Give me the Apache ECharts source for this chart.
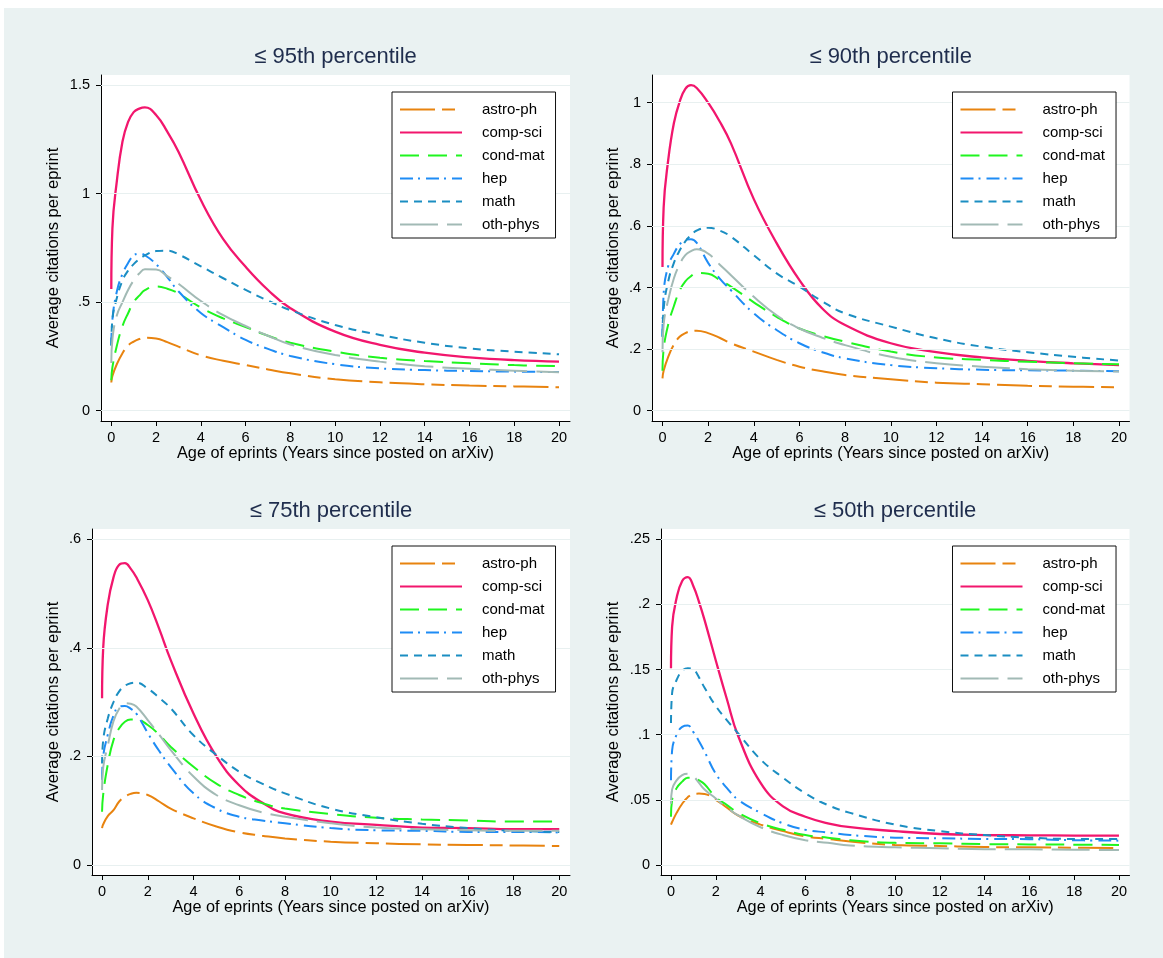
<!DOCTYPE html>
<html>
<head>
<meta charset="utf-8">
<script src="https://cdn.jsdelivr.net/npm/echarts@6/dist/echarts.min.js"></script>
<style>
html,body{margin:0;padding:0;background:#fff;}
#chart{width:1163px;height:958px;}
</style>
</head>
<body>
<div id="chart"></div>
<script>
// ---------------- DATA ----------------
const fields = ['astro-ph', 'comp-sci', 'cond-mat', 'hep', 'math', 'oth-phys'];
const years = [0, 0.05, 0.25, 0.5, 0.75, 1, 1.25, 1.5, 2, 2.5, 3, 4, 5, 6, 7, 8, 10, 12, 14, 16, 18, 20];
const xTicks = [0, 2, 4, 6, 8, 10, 12, 14, 16, 18, 20];

const panelTitles = ['≤ 95th percentile', '≤ 90th percentile', '≤ 75th percentile', '≤ 50th percentile'];
const yTicks95 = [0, 0.5, 1, 1.5];
const yTicks90 = [0, 0.2, 0.4, 0.6, 0.8, 1];
const yTicks75 = [0, 0.2, 0.4, 0.6];
const yTicks50 = [0, 0.05, 0.1, 0.15, 0.2, 0.25];

// <= 95th percentile
const p95_astro = [0.13, 0.16, 0.215, 0.265, 0.3, 0.318, 0.33, 0.336, 0.333, 0.316, 0.295, 0.255, 0.23, 0.21, 0.19, 0.172, 0.145, 0.131, 0.122, 0.116, 0.112, 0.108];
const p95_comp  = [0.56, 0.84, 1.06, 1.24, 1.33, 1.375, 1.391, 1.397, 1.362, 1.285, 1.193, 0.97, 0.79, 0.663, 0.556, 0.472, 0.364, 0.303, 0.267, 0.246, 0.233, 0.226];
const p95_cond  = [0.14, 0.2, 0.3, 0.39, 0.449, 0.5, 0.53, 0.555, 0.572, 0.562, 0.54, 0.475, 0.425, 0.385, 0.345, 0.313, 0.272, 0.244, 0.229, 0.218, 0.21, 0.205];
const p95_hep   = [0.3, 0.42, 0.55, 0.63, 0.68, 0.715, 0.723, 0.716, 0.675, 0.615, 0.55, 0.45, 0.385, 0.326, 0.285, 0.252, 0.214, 0.195, 0.187, 0.183, 0.18, 0.178];
const p95_math  = [0.3, 0.42, 0.52, 0.6, 0.645, 0.675, 0.698, 0.715, 0.735, 0.737, 0.72, 0.665, 0.61, 0.556, 0.507, 0.463, 0.395, 0.349, 0.313, 0.287, 0.272, 0.26];
const p95_oth   = [0.22, 0.33, 0.44, 0.5, 0.556, 0.6, 0.632, 0.651, 0.65, 0.62, 0.585, 0.505, 0.44, 0.39, 0.345, 0.305, 0.257, 0.226, 0.205, 0.193, 0.184, 0.177];

// <= 90th percentile
const p90_astro = [0.105, 0.13, 0.175, 0.215, 0.24, 0.252, 0.258, 0.26, 0.252, 0.237, 0.219, 0.192, 0.165, 0.143, 0.128, 0.116, 0.102, 0.091, 0.086, 0.081, 0.078, 0.076];
const p90_comp  = [0.467, 0.66, 0.814, 0.934, 1.003, 1.045, 1.057, 1.048, 1.0, 0.94, 0.868, 0.687, 0.544, 0.424, 0.332, 0.278, 0.219, 0.19, 0.173, 0.162, 0.154, 0.148];
const p90_cond  = [0.13, 0.2, 0.28, 0.34, 0.39, 0.42, 0.437, 0.447, 0.445, 0.425, 0.403, 0.352, 0.305, 0.267, 0.243, 0.224, 0.192, 0.173, 0.165, 0.159, 0.154, 0.151];
const p90_hep   = [0.24, 0.38, 0.47, 0.51, 0.54, 0.555, 0.557, 0.545, 0.48, 0.43, 0.391, 0.316, 0.262, 0.219, 0.19, 0.17, 0.148, 0.138, 0.133, 0.131, 0.13, 0.128];
const p90_math  = [0.24, 0.33, 0.42, 0.48, 0.52, 0.55, 0.57, 0.585, 0.594, 0.585, 0.565, 0.505, 0.446, 0.403, 0.355, 0.316, 0.273, 0.235, 0.208, 0.19, 0.175, 0.163];
const p90_oth   = [0.19, 0.28, 0.36, 0.43, 0.475, 0.505, 0.518, 0.524, 0.51, 0.475, 0.44, 0.37, 0.31, 0.267, 0.237, 0.213, 0.175, 0.154, 0.143, 0.135, 0.13, 0.127];

// <= 75th percentile
const p75_astro = [0.068, 0.075, 0.09, 0.101, 0.117, 0.126, 0.131, 0.133, 0.129, 0.117, 0.104, 0.086, 0.071, 0.06, 0.054, 0.049, 0.043, 0.04, 0.038, 0.037, 0.036, 0.035];
const p75_comp  = [0.307, 0.4, 0.48, 0.53, 0.553, 0.556, 0.546, 0.53, 0.488, 0.435, 0.378, 0.279, 0.2, 0.147, 0.115, 0.095, 0.08, 0.074, 0.069, 0.068, 0.066, 0.066];
const p75_cond  = [0.098, 0.13, 0.185, 0.23, 0.252, 0.264, 0.268, 0.268, 0.258, 0.24, 0.218, 0.181, 0.15, 0.129, 0.114, 0.104, 0.094, 0.087, 0.084, 0.082, 0.08, 0.08];
const p75_hep   = [0.157, 0.2, 0.24, 0.275, 0.292, 0.293, 0.288, 0.279, 0.243, 0.21, 0.181, 0.132, 0.104, 0.089, 0.082, 0.077, 0.068, 0.064, 0.063, 0.061, 0.061, 0.06];
const p75_math  = [0.187, 0.23, 0.27, 0.3, 0.32, 0.33, 0.335, 0.336, 0.325, 0.308, 0.289, 0.239, 0.203, 0.172, 0.15, 0.132, 0.104, 0.088, 0.076, 0.068, 0.063, 0.061];
const p75_oth   = [0.138, 0.18, 0.22, 0.265, 0.288, 0.298, 0.297, 0.292, 0.267, 0.24, 0.212, 0.163, 0.129, 0.11, 0.097, 0.089, 0.077, 0.069, 0.066, 0.064, 0.063, 0.063];

// <= 50th percentile
const p50_astro = [0.031, 0.033, 0.04, 0.047, 0.052, 0.0545, 0.0548, 0.0545, 0.05, 0.044, 0.038, 0.031, 0.026, 0.022, 0.02, 0.018, 0.0154, 0.0146, 0.0138, 0.0136, 0.0133, 0.013];
const p50_comp  = [0.151, 0.183, 0.205, 0.218, 0.221, 0.214, 0.202, 0.188, 0.157, 0.127, 0.099, 0.063, 0.045, 0.037, 0.032, 0.029, 0.026, 0.0238, 0.023, 0.0228, 0.0226, 0.0225];
const p50_cond  = [0.037, 0.05, 0.059, 0.064, 0.067, 0.067, 0.065, 0.062, 0.052, 0.046, 0.04, 0.032, 0.027, 0.023, 0.021, 0.019, 0.017, 0.0166, 0.016, 0.0158, 0.0156, 0.0154];
const p50_hep   = [0.065, 0.088, 0.1, 0.106, 0.107, 0.102, 0.095, 0.087, 0.07, 0.059, 0.05, 0.04, 0.032, 0.027, 0.025, 0.023, 0.021, 0.0205, 0.02, 0.0198, 0.019, 0.0187];
const p50_math  = [0.109, 0.132, 0.142, 0.149, 0.151, 0.15, 0.144, 0.136, 0.122, 0.111, 0.101, 0.081, 0.067, 0.055, 0.046, 0.04, 0.031, 0.026, 0.023, 0.021, 0.02, 0.02];
const p50_oth   = [0.047, 0.058, 0.065, 0.069, 0.07, 0.068, 0.063, 0.058, 0.051, 0.044, 0.038, 0.029, 0.023, 0.019, 0.017, 0.015, 0.0136, 0.0128, 0.012, 0.012, 0.0117, 0.0115];

// ---------------- LAYOUT / STYLE ----------------
const panelValues = [
  [p95_astro, p95_comp, p95_cond, p95_hep, p95_math, p95_oth],
  [p90_astro, p90_comp, p90_cond, p90_hep, p90_math, p90_oth],
  [p75_astro, p75_comp, p75_cond, p75_hep, p75_math, p75_oth],
  [p50_astro, p50_comp, p50_cond, p50_hep, p50_math, p50_oth]
];
const panelYTicks = [yTicks95, yTicks90, yTicks75, yTicks50];

const panels = [
  { grid: {left: 101, top: 75, width: 469, height: 346}, xr: [-0.46, 20.49], yr: [-0.0474, 1.546], nameGap: 39, legend: {left: 392, top: 92}, title: {cx: 335.5, top: 46} },
  { grid: {left: 652, top: 75, width: 477.5, height: 346}, xr: [-0.46, 20.46], yr: [-0.0334, 1.09], nameGap: 30, legend: {left: 952.5, top: 92}, title: {cx: 890.7, top: 46} },
  { grid: {left: 92, top: 529, width: 478, height: 346}, xr: [-0.44, 20.47], yr: [-0.0184, 0.619], nameGap: 30, legend: {left: 392, top: 546}, title: {cx: 331, top: 500} },
  { grid: {left: 661, top: 529, width: 468.5, height: 346}, xr: [-0.446, 20.47], yr: [-0.00768, 0.2579], nameGap: 39, legend: {left: 952.5, top: 546}, title: {cx: 895, top: 500} }
];

const seriesStyle = {
  'astro-ph': {color: '#e8830f', type: [35, 7, 13, 7], width: 2},
  'comp-sci': {color: '#f2166d', type: 'solid', width: 2.3},
  'cond-mat': {color: '#1ff51f', type: [19, 9], width: 2},
  'hep':      {color: '#1e8cf5', type: [13, 5, 2, 6], width: 2},
  'math':     {color: '#1b8ec2', type: [8, 6], width: 2},
  'oth-phys': {color: '#a2bab5', type: [38, 9], width: 2}
};

const FONT = '"Liberation Sans", Arial, Helvetica, sans-serif';
const fmt = v => String(v).replace(/^0\./, '.').replace(/^-0\./, '-.');

const option = {
  animation: false,
  backgroundColor: '#ffffff',
  graphic: [{ type: 'rect', shape: {x: 4, y: 8, width: 1159, height: 950}, style: {fill: '#eaf2f2'}, z: -10, silent: true }],
  title: [], grid: [], xAxis: [], yAxis: [], legend: [], series: []
};

panels.forEach((p, i) => {
  option.title.push({
    text: panelTitles[i], left: p.title.cx, top: p.title.top, textAlign: 'center', padding: 0,
    textStyle: {fontFamily: FONT, fontSize: 22, fontWeight: 'normal', color: '#1f2d4d'}
  });
  option.grid.push(Object.assign({show: true, backgroundColor: '#ffffff', borderWidth: 0, containLabel: false}, p.grid));
  option.xAxis.push({
    type: 'value', gridIndex: i, min: p.xr[0], max: p.xr[1],
    name: 'Age of eprints (Years since posted on arXiv)', nameLocation: 'middle', nameGap: 24,
    nameTextStyle: {fontFamily: FONT, fontSize: 16.3, color: '#000'},
    axisLine: {show: true, onZero: false, lineStyle: {color: '#000', width: 1}},
    axisTick: {show: true, length: 5, customValues: xTicks, lineStyle: {color: '#000'}},
    axisLabel: {customValues: xTicks, margin: 9, fontFamily: FONT, fontSize: 14.5, color: '#000', formatter: fmt},
    splitLine: {show: false}
  });
  option.yAxis.push({
    type: 'value', gridIndex: i, min: p.yr[0], max: p.yr[1],
    name: 'Average citations per eprint', nameLocation: 'middle', nameGap: p.nameGap, nameRotate: 90,
    nameTextStyle: {fontFamily: FONT, fontSize: 16.5, color: '#000'},
    axisLine: {show: true, onZero: false, lineStyle: {color: '#000', width: 1}},
    axisTick: {show: true, length: 5, customValues: panelYTicks[i], lineStyle: {color: '#000'}},
    axisLabel: {customValues: panelYTicks[i], margin: 11, fontFamily: FONT, fontSize: 14.5, color: '#000', formatter: fmt},
    splitLine: {show: false}
  });
  option.legend.push({
    data: fields, left: p.legend.left, top: p.legend.top, orient: 'vertical', z: 20,
    backgroundColor: '#ffffff', borderColor: '#111', borderWidth: 1, borderRadius: 0,
    padding: [10, 11, 6, 7], itemGap: 8, itemWidth: 62, itemHeight: 14,
    selectedMode: false,
    itemStyle: {opacity: 0},
    textStyle: {fontFamily: FONT, fontSize: 15, color: '#000', padding: [0, 0, 0, 15]}
  });
  // gridlines at tick values
  option.series.push({
    type: 'line', xAxisIndex: i, yAxisIndex: i, data: [], z: 1, silent: true,
    markLine: {
      silent: true, symbol: ['none', 'none'], label: {show: false}, animation: false,
      lineStyle: {color: '#e8f0f0', width: 1.2, type: 'solid'},
      data: panelYTicks[i].map(v => ({yAxis: v}))
    }
  });
  fields.forEach((f, k) => {
    const st = seriesStyle[f];
    option.series.push({
      name: f, type: 'line', xAxisIndex: i, yAxisIndex: i, z: 3,
      data: years.map((x, j) => [x, panelValues[i][k][j]]),
      smooth: 0.45, showSymbol: false, symbol: 'none',
      color: st.color,
      lineStyle: {color: st.color, width: st.width, type: st.type, cap: 'butt'}
    });
  });
});

const chart = echarts.init(document.getElementById('chart'), null, {renderer: 'canvas'});
chart.setOption(option);
</script>
</body>
</html>
